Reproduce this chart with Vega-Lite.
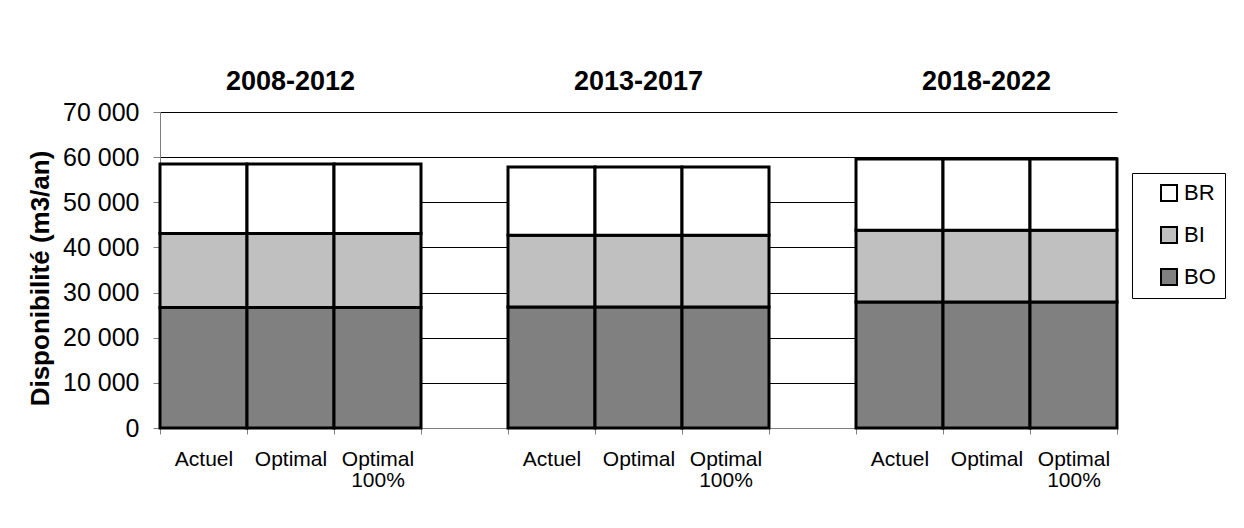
{
  "$schema": "https://vega.github.io/schema/vega-lite/v6.json",
  "width": 957,
  "height": 316,
  "autosize": {"type": "none"},
  "padding": {"left": 160, "top": 112, "right": 127, "bottom": 100},
  "background": "white",
  "config": {
    "font": "Liberation Sans",
    "view": {"stroke": null},
    "locale": {"number": {"decimal": ",", "thousands": " ", "grouping": [3], "currency": ["", " €"]}},
    "axis": {
      "labelFont": "Liberation Sans",
      "titleFont": "Liberation Sans",
      "labelColor": "#000",
      "titleColor": "#000",
      "domainColor": "#808080",
      "tickColor": "#808080",
      "domainWidth": 1,
      "tickWidth": 1
    },
    "legend": {"labelFont": "Liberation Sans", "labelColor": "#000"}
  },
  "datasets": {
    "bars": [
      {"bar": "2008-2012|Actuel", "period": "2008-2012", "scenario": "Actuel", "type": "BO", "volume": 26700},
      {"bar": "2008-2012|Actuel", "period": "2008-2012", "scenario": "Actuel", "type": "BI", "volume": 16400},
      {"bar": "2008-2012|Actuel", "period": "2008-2012", "scenario": "Actuel", "type": "BR", "volume": 15400},
      {"bar": "2008-2012|Optimal", "period": "2008-2012", "scenario": "Optimal", "type": "BO", "volume": 26700},
      {"bar": "2008-2012|Optimal", "period": "2008-2012", "scenario": "Optimal", "type": "BI", "volume": 16400},
      {"bar": "2008-2012|Optimal", "period": "2008-2012", "scenario": "Optimal", "type": "BR", "volume": 15400},
      {"bar": "2008-2012|Optimal 100%", "period": "2008-2012", "scenario": "Optimal 100%", "type": "BO", "volume": 26700},
      {"bar": "2008-2012|Optimal 100%", "period": "2008-2012", "scenario": "Optimal 100%", "type": "BI", "volume": 16400},
      {"bar": "2008-2012|Optimal 100%", "period": "2008-2012", "scenario": "Optimal 100%", "type": "BR", "volume": 15400},
      {"bar": "2013-2017|Actuel", "period": "2013-2017", "scenario": "Actuel", "type": "BO", "volume": 26800},
      {"bar": "2013-2017|Actuel", "period": "2013-2017", "scenario": "Actuel", "type": "BI", "volume": 15900},
      {"bar": "2013-2017|Actuel", "period": "2013-2017", "scenario": "Actuel", "type": "BR", "volume": 15100},
      {"bar": "2013-2017|Optimal", "period": "2013-2017", "scenario": "Optimal", "type": "BO", "volume": 26800},
      {"bar": "2013-2017|Optimal", "period": "2013-2017", "scenario": "Optimal", "type": "BI", "volume": 15900},
      {"bar": "2013-2017|Optimal", "period": "2013-2017", "scenario": "Optimal", "type": "BR", "volume": 15100},
      {"bar": "2013-2017|Optimal 100%", "period": "2013-2017", "scenario": "Optimal 100%", "type": "BO", "volume": 26800},
      {"bar": "2013-2017|Optimal 100%", "period": "2013-2017", "scenario": "Optimal 100%", "type": "BI", "volume": 15900},
      {"bar": "2013-2017|Optimal 100%", "period": "2013-2017", "scenario": "Optimal 100%", "type": "BR", "volume": 15100},
      {"bar": "2018-2022|Actuel", "period": "2018-2022", "scenario": "Actuel", "type": "BO", "volume": 27900},
      {"bar": "2018-2022|Actuel", "period": "2018-2022", "scenario": "Actuel", "type": "BI", "volume": 15900},
      {"bar": "2018-2022|Actuel", "period": "2018-2022", "scenario": "Actuel", "type": "BR", "volume": 15800},
      {"bar": "2018-2022|Optimal", "period": "2018-2022", "scenario": "Optimal", "type": "BO", "volume": 27900},
      {"bar": "2018-2022|Optimal", "period": "2018-2022", "scenario": "Optimal", "type": "BI", "volume": 15900},
      {"bar": "2018-2022|Optimal", "period": "2018-2022", "scenario": "Optimal", "type": "BR", "volume": 15800},
      {"bar": "2018-2022|Optimal 100%", "period": "2018-2022", "scenario": "Optimal 100%", "type": "BO", "volume": 27900},
      {"bar": "2018-2022|Optimal 100%", "period": "2018-2022", "scenario": "Optimal 100%", "type": "BI", "volume": 15900},
      {"bar": "2018-2022|Optimal 100%", "period": "2018-2022", "scenario": "Optimal 100%", "type": "BR", "volume": 15800}
    ],
    "groups": [
      {"bar": "2008-2012|Optimal", "period": "2008-2012"},
      {"bar": "2013-2017|Optimal", "period": "2013-2017"},
      {"bar": "2018-2022|Optimal", "period": "2018-2022"}
    ]
  },
  "layer": [
    {
      "data": {"name": "bars"},
      "mark": {"type": "bar", "stroke": "#000", "strokeWidth": 3},
      "encoding": {
        "x": {
          "field": "bar",
          "type": "nominal",
          "sort": null,
          "scale": {
            "domain": ["2008-2012|Actuel", "2008-2012|Optimal", "2008-2012|Optimal 100%", "gap1", "2013-2017|Actuel", "2013-2017|Optimal", "2013-2017|Optimal 100%", "gap2", "2018-2022|Actuel", "2018-2022|Optimal", "2018-2022|Optimal 100%"],
            "paddingInner": 0,
            "paddingOuter": 0
          },
          "axis": {
            "title": null,
            "labelExpr": "!isString(datum.value) || indexof(datum.value, '|') < 0 ? '' : (split(datum.value, '|')[1] == 'Optimal 100%' ? ['Optimal', '100%'] : split(datum.value, '|')[1])",
            "tickBand": "extent",
            "tickSize": 6,
            "labelPadding": 14,
            "labelFontSize": 21,
            "labelLineHeight": 21,
            "labelAngle": 0,
            "grid": false
          }
        },
        "y": {
          "field": "volume",
          "type": "quantitative",
          "stack": "zero",
          "scale": {"domain": [0, 70000], "nice": false},
          "axis": {
            "title": "Disponibilité (m3/an)",
            "values": [0, 10000, 20000, 30000, 40000, 50000, 60000, 70000],
            "format": ",d",
            "labelFontSize": 25,
            "labelPadding": 14,
            "tickSize": 7,
            "grid": true,
            "gridColor": "#000",
            "gridWidth": 1,
            "titleFontSize": 26,
            "titleFontWeight": "bold",
            "titlePadding": 9,
            "titleY": 166
          }
        },
        "order": {"field": "volume", "type": "quantitative", "sort": "descending"},
        "color": {
          "field": "type",
          "type": "nominal",
          "scale": {"domain": ["BO", "BI", "BR"], "range": ["#808080", "#C0C0C0", "#FFFFFF"]},
          "legend": {
            "title": null,
            "orient": "none",
            "legendX": 972,
            "legendY": 61,
            "values": ["BR", "BI", "BO"],
            "symbolType": "square",
            "symbolSize": 256,
            "symbolStrokeColor": "#000",
            "symbolStrokeWidth": 2,
            "labelFontSize": 22,
            "labelOffset": 4,
            "padding": 9,
            "rowPadding": 18,
            "symbolOffset": 17,
            "strokeColor": "#000",
            "fillColor": "#FFFFFF"
          }
        }
      }
    },
    {
      "data": {"name": "groups"},
      "mark": {"type": "text", "fontSize": 27, "fontWeight": "bold", "baseline": "alphabetic", "dy": -22, "font": "Liberation Sans", "color": "#000"},
      "encoding": {
        "x": {"field": "bar", "type": "nominal"},
        "y": {"datum": 70000, "type": "quantitative"},
        "text": {"field": "period"}
      }
    }
  ]
}
